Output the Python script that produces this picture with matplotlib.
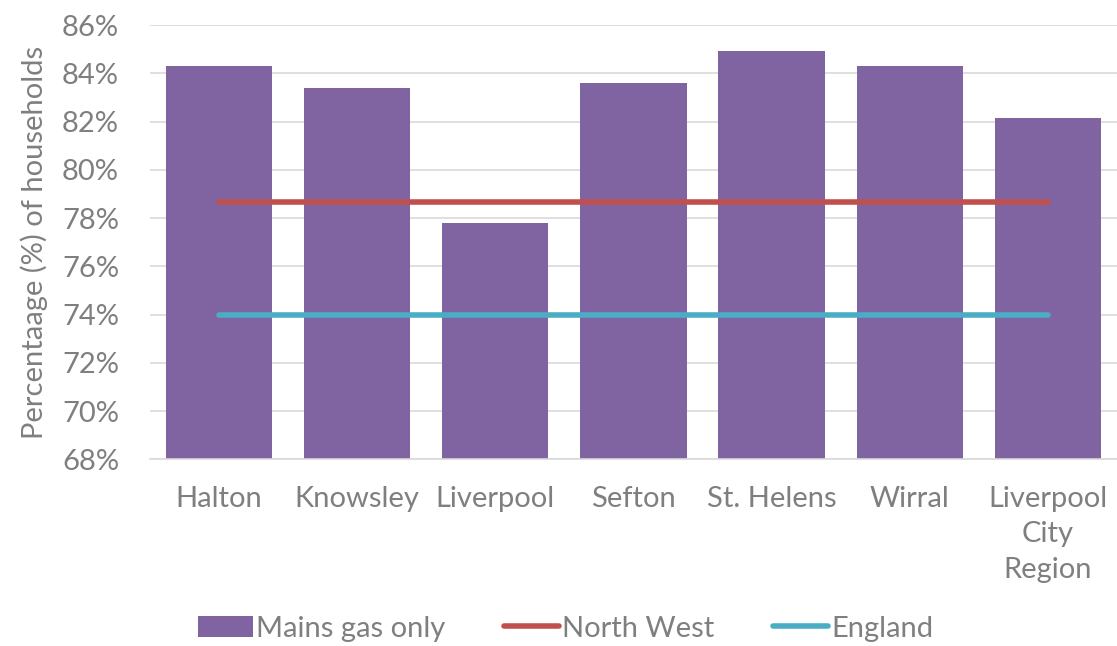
import matplotlib
matplotlib.use("Agg")
import matplotlib.pyplot as plt
import numpy as np

areas = ["Halton", "Knowsley", "Liverpool", "Sefton", "St. Helens", "Wirral", "Liverpool\nCity\nRegion"]
mains_gas = [84.3, 83.4, 77.8, 83.6, 84.95, 84.3, 82.15]
north_west = 78.65
england = 74.0
yticks = [68, 70, 72, 74, 76, 78, 80, 82, 84, 86]

plt.rcParams["font.family"] = ["Lato", "DejaVu Sans"]
grey = "#7f7f7f"
fs = 21

fig = plt.figure(figsize=(11.17, 6.46), dpi=100)
ax = fig.add_axes([0.134, 0.289, 0.866, 0.672])

x = np.arange(len(areas))
b = ax.bar(x, mains_gas, width=0.77, color="#8064a2", label="Mains gas only", zorder=2)
l1, = ax.plot([x[0], x[-1]], [north_west, north_west], color="#c0504d", lw=4, solid_capstyle="round",
              label="North West", zorder=3)
l2, = ax.plot([x[0], x[-1]], [england, england], color="#4bacc6", lw=4, solid_capstyle="round",
              label="England", zorder=3)

ax.set_xlim(-0.5, len(areas) - 0.5)
ax.set_ylim(68, 86)
ax.set_yticks(yticks)
ax.set_yticklabels([f"{t}%" for t in yticks])
ax.set_xticks(x)
ax.set_xticklabels(areas, linespacing=1.45)
ax.grid(axis="y", color="#d9d9d9", lw=1.2, zorder=0)
for s in ["top", "right", "left"]:
    ax.spines[s].set_visible(False)
ax.spines["bottom"].set_color("#d9d9d9")
ax.spines["bottom"].set_linewidth(1.2)
ax.tick_params(axis="both", length=0, labelsize=fs, labelcolor=grey)
ax.tick_params(axis="x", pad=19)
ax.tick_params(axis="y", pad=22)
ax.set_ylabel("Percentaage (%) of households", fontsize=fs, color=grey, labelpad=10)

ax.legend([b, l1, l2], ["Mains gas only", "North West", "England"],
          loc="center", bbox_to_anchor=(0.43, -0.39), ncol=3, frameon=False,
          fontsize=fs, labelcolor=grey, handlelength=1.9, handleheight=0.75,
          handletextpad=0.1, columnspacing=2.0)

fig.savefig("out.png", dpi=100)
